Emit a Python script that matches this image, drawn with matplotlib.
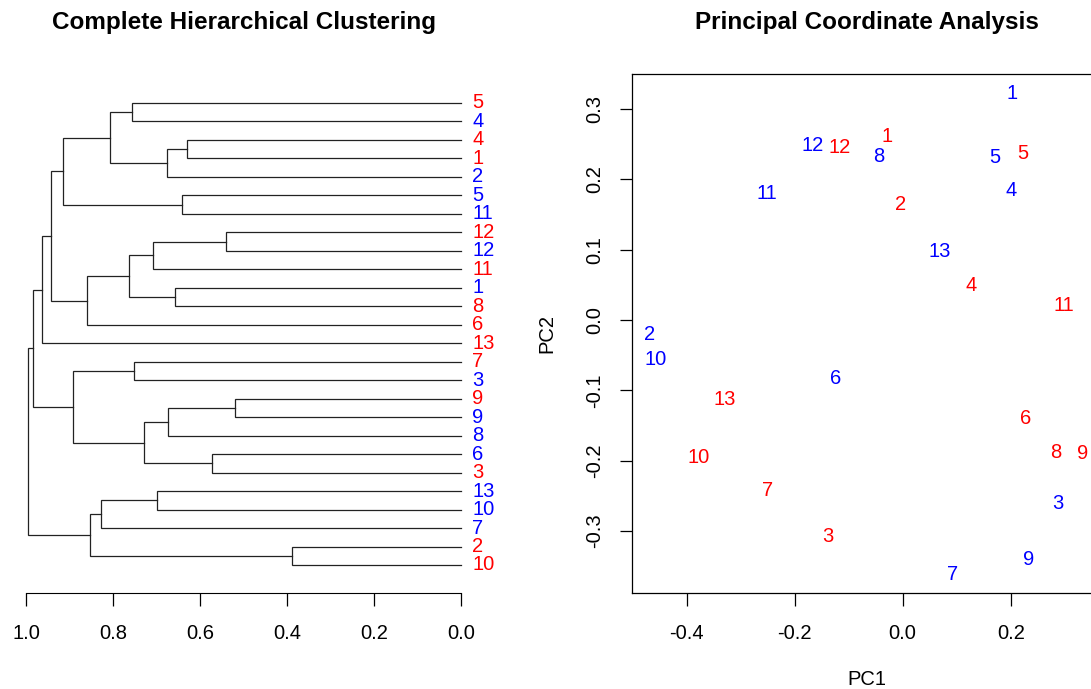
import numpy as np
import matplotlib
matplotlib.use('Agg')
from matplotlib import pyplot as plt

plt.rcParams['font.family'] = ['Liberation Sans', 'DejaVu Sans']

# leaf order of the dendrogram, top to bottom
leaf_labels = ['5', '4', '4', '1', '2', '5', '11', '12', '12', '11', '1', '8', '6',
               '13', '7', '3', '9', '9', '8', '6', '3', '13', '10', '7', '2', '10']
leaf_colors = ['red', 'blue', 'red', 'red', 'blue', 'blue', 'blue', 'red', 'blue', 'red',
               'blue', 'red', 'red', 'red', 'red', 'blue', 'red', 'blue', 'blue', 'blue',
               'red', 'blue', 'blue', 'blue', 'red', 'red']

# merges: (child a, child b, height); new nodes numbered from 26 upward
merges = [
    (0, 1, 0.757), (2, 3, 0.629), (27, 4, 0.676), (26, 28, 0.807),
    (5, 6, 0.642), (29, 30, 0.914), (7, 8, 0.540), (32, 9, 0.707),
    (10, 11, 0.658), (33, 34, 0.764), (35, 12, 0.860), (31, 36, 0.943),
    (37, 13, 0.963), (14, 15, 0.752), (16, 17, 0.519), (40, 18, 0.674),
    (19, 20, 0.573), (41, 42, 0.729), (39, 43, 0.893), (38, 44, 0.985),
    (21, 22, 0.699), (46, 23, 0.828), (24, 25, 0.389), (47, 48, 0.853),
    (45, 49, 0.995),
]

# PCoA coordinates
red_labels = ['1', '12', '5', '2', '4', '11', '13', '6', '10', '8', '9', '7', '3']
red_pc1 = [-0.029, -0.116, 0.223, -0.003, 0.127, 0.299, -0.330, 0.228, -0.377, 0.284, 0.334, -0.250, -0.138]
red_pc2 = [0.261, 0.246, 0.237, 0.165, 0.049, 0.021, -0.113, -0.140, -0.195, -0.188, -0.189, -0.242, -0.308]

blue_labels = ['1', '12', '8', '5', '4', '11', '13', '2', '10', '6', '3', '9', '7']
blue_pc1 = [0.202, -0.166, -0.045, 0.171, 0.201, -0.252, 0.068, -0.468, -0.457, -0.124, 0.288, 0.234, 0.093]
blue_pc2 = [0.322, 0.249, 0.232, 0.231, 0.184, 0.180, 0.098, -0.021, -0.056, -0.083, -0.261, -0.341, -0.361]

W, H = 1091, 689
fig = plt.figure(figsize=(W / 100, H / 100), dpi=100)

def px_axes(x0, x1, y0, y1):
    # pixel box -> figure fraction
    return fig.add_axes([x0 / W, 1 - y1 / H, (x1 - x0) / W, (y1 - y0) / H])

FS = 14.5
TFS = 17.5

#=====================================================
# dendrogram
ax1 = px_axes(8.6, 478.4, 74, 593)
n = len(leaf_labels)
pos = {i: (0.0, float(i)) for i in range(n)}
node = n
for a, b, h in merges:
    ha_, ya = pos[a]
    hb, yb = pos[b]
    ax1.plot([ha_, h, h, hb], [ya, ya, yb, yb], color='#222222', lw=0.9,
             solid_joinstyle='miter')
    pos[node] = (h, (ya + yb) / 2)
    node += 1

for i, (lab, col) in enumerate(zip(leaf_labels, leaf_colors)):
    ax1.annotate(lab, xy=(0, i), xytext=(8, 0), textcoords='offset points',
                 ha='left', va='center', color=col, fontsize=FS, annotation_clip=False)

ax1.set_xlim(1.04, -0.04)
ax1.set_ylim((593 - 103) / 18.48, (74 - 103) / 18.48)
for s in ['top', 'right', 'left']:
    ax1.spines[s].set_visible(False)
ax1.spines['bottom'].set_bounds(0, 1)
ax1.set_yticks([])
ax1.set_xticks([1.0, 0.8, 0.6, 0.4, 0.2, 0.0])
ax1.set_xticklabels(['1.0', '0.8', '0.6', '0.4', '0.2', '0.0'])
ax1.tick_params(axis='x', length=9, width=0.9, pad=13, labelsize=FS)
ax1.patch.set_alpha(0)

fig.text(244 / W, 1 - 23 / H, 'Complete Hierarchical Clustering', ha='center', va='center',
         fontsize=TFS, fontweight='bold')

#=====================================================
# PCoA
ax2 = px_axes(632, 1102, 74, 593)
for lab, x, y in zip(red_labels, red_pc1, red_pc2):
    ax2.text(x, y, lab, color='red', ha='center', va='center', fontsize=FS)
for lab, x, y in zip(blue_labels, blue_pc1, blue_pc2):
    ax2.text(x, y, lab, color='blue', ha='center', va='center', fontsize=FS)

ax2.set_xlim(-0.501, 0.369)
ax2.set_ylim(-0.388, 0.350)
ax2.set_xticks([-0.4, -0.2, 0.0, 0.2])
ax2.set_xticklabels(['-0.4', '-0.2', '0.0', '0.2'])
ax2.set_yticks([-0.3, -0.2, -0.1, 0.0, 0.1, 0.2, 0.3])
ax2.set_yticklabels(['-0.3', '-0.2', '-0.1', '0.0', '0.1', '0.2', '0.3'],
                    rotation=90, va='center')
ax2.tick_params(axis='x', length=9, width=0.9, pad=13, labelsize=FS)
ax2.tick_params(axis='y', length=9, width=0.9, pad=11, labelsize=FS)
for s in ax2.spines.values():
    s.set_linewidth(0.9)
ax2.set_xlabel('PC1', fontsize=FS, labelpad=20)
ax2.set_ylabel('PC2', fontsize=FS, labelpad=21)

fig.text(867 / W, 1 - 23 / H, 'Principal Coordinate Analysis', ha='center', va='center',
         fontsize=TFS, fontweight='bold')

fig.savefig('out.png', dpi=100)
